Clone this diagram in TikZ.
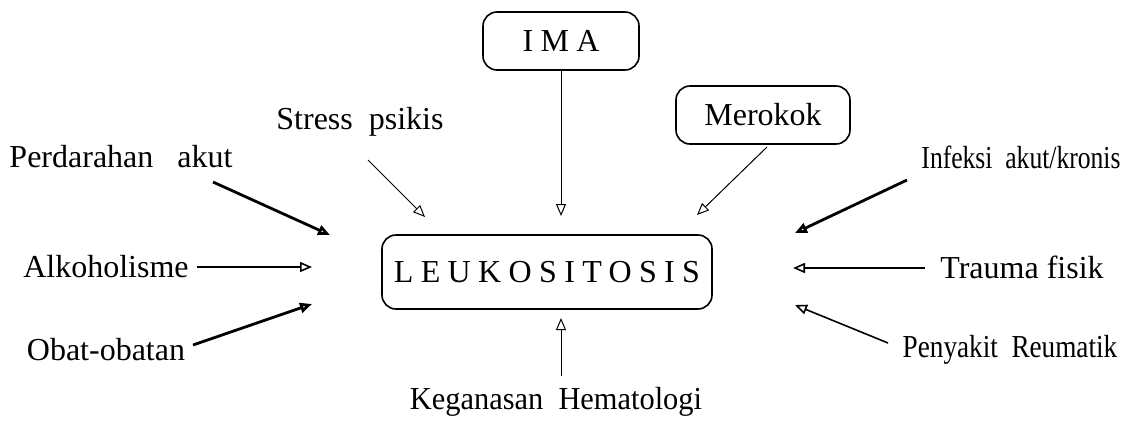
\documentclass[tikz,border=0pt]{standalone}
\usepackage{fontspec}
\setmainfont{Liberation Serif}
\usetikzlibrary{arrows.meta}
\tikzset{
  cause/.style={font=\fontsize{16}{18}\selectfont, inner sep=1pt},
  narrow/.style={font=\fontsize{16}{18}\selectfont\addfontfeatures{FakeStretch=#1}},
  causebox/.style={draw, rounded corners=7pt, line width=0.8pt,
                   font=\fontsize{16}{18}\selectfont, inner sep=2pt},
  spaced/.style={font=\fontsize{16}{18}\selectfont\addfontfeatures{LetterSpace=23}},
  towards/.style={-{Triangle[open, length=6pt, width=5pt]}, line width=0.5pt},
  medium/.style={towards, line width=0.8pt},
  heavy/.style={towards, line width=1.4pt},
}

\begin{document}
\begin{tikzpicture}[x=0.5pt, y=-0.5pt]
  \useasboundingbox (0,0) rectangle (1123,424);

  % centre
  \node[causebox, spaced, minimum width=165pt, minimum height=37pt] (leuko) at (547,272) {LEUKOSITOSIS};

  % boxed causes
  \node[causebox, spaced, minimum width=78pt, minimum height=29pt] (ima) at (561,41) {IMA};
  \node[causebox, minimum width=87pt, minimum height=29pt] (merokok) at (763,115) {Merokok};

  % plain causes
  \node[cause] (stress) at (360,122) {Stress\ \ psikis};
  \node[cause] (perdarahan) at (121,157) {Perdarahan\ \ \ akut};
  \node[cause] (alkohol) at (106,267) {Alkoholisme};
  \node[cause] (obat) at (106,350) {Obat-obatan};
  \node[cause, narrow=0.8] (infeksi) at (1021,157) {Infeksi\ \ akut/kronis};
  \node[cause] (trauma) at (1022,267) {Trauma fisik};
  \node[cause, narrow=0.85] (penyakit) at (1010,350) {Penyakit\ \ Reumatik};
  \node[cause, narrow=0.95] (keganasan) at (556,402) {Keganasan\ \ Hematologi};

  % arrow ends
  \coordinate (perdarahan-out) at (213,182);
  \coordinate (perdarahan-in) at (330,235);
  \coordinate (stress-out) at (368,160);
  \coordinate (stress-in) at (425,217);
  \coordinate (ima-in) at (561,216);
  \coordinate (merokok-out) at (767,147);
  \coordinate (merokok-in) at (697,215);
  \coordinate (infeksi-out) at (907,180);
  \coordinate (infeksi-in) at (795,233);
  \coordinate (alkohol-in) at (312,267);
  \coordinate (trauma-out) at (925,268);
  \coordinate (trauma-in) at (793,268);
  \coordinate (obat-out) at (193,345);
  \coordinate (obat-in) at (312,304);
  \coordinate (penyakit-out) at (888,343);
  \coordinate (penyakit-in) at (795,305);
  \coordinate (keganasan-out) at (561,376);
  \coordinate (keganasan-in) at (561,318);

  \draw[heavy] (perdarahan-out) -- (perdarahan-in);
  \draw[towards] (stress-out) -- (stress-in);
  \draw[towards] (ima.south) -- (ima-in);
  \draw[towards] (merokok-out) -- (merokok-in);
  \draw[heavy] (infeksi-out) -- (infeksi-in);
  \draw[medium, shorten <=3pt] (alkohol.east) -- (alkohol-in);
  \draw[medium] (trauma-out) -- (trauma-in);
  \draw[heavy] (obat-out) -- (obat-in);
  \draw[medium] (penyakit-out) -- (penyakit-in);
  \draw[towards] (keganasan-out) -- (keganasan-in);
\end{tikzpicture}
\end{document}
